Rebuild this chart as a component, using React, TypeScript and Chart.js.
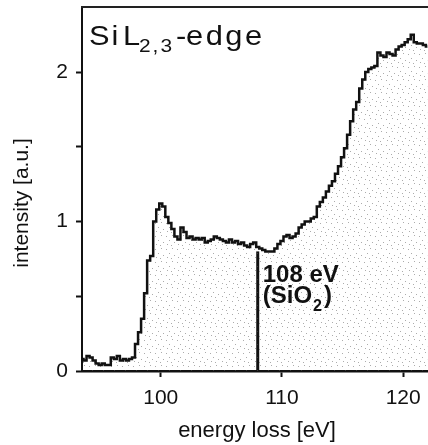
import React, { useEffect, useRef } from "react";
import { Chart, registerables } from "chart.js";

Chart.register(...registerables);

const ENERGY = [
  93.5, 93.75, 94.0, 94.25, 94.5, 94.75, 95.0, 95.25, 95.5, 95.75,
  96.0, 96.25, 96.5, 96.75, 97.0, 97.25, 97.5, 97.75, 98.0, 98.25,
  98.5, 98.75, 99.0, 99.25, 99.5, 99.75, 100.0, 100.25, 100.5, 100.75,
  101.0, 101.25, 101.5, 101.75, 102.0, 102.25, 102.5, 102.75, 103.0, 103.25,
  103.5, 103.75, 104.0, 104.25, 104.5, 104.75, 105.0, 105.25, 105.5, 105.75,
  106.0, 106.25, 106.5, 106.75, 107.0, 107.25, 107.5, 107.75, 108.0, 108.25,
  108.5, 108.75, 109.0, 109.25, 109.5, 109.75, 110.0, 110.25, 110.5, 110.75,
  111.0, 111.25, 111.5, 111.75, 112.0, 112.25, 112.5, 112.75, 113.0, 113.25,
  113.5, 113.75, 114.0, 114.25, 114.5, 114.75, 115.0, 115.25, 115.5, 115.75,
  116.0, 116.25, 116.5, 116.75, 117.0, 117.25, 117.5, 117.75, 118.0, 118.25,
  118.5, 118.75, 119.0, 119.25, 119.5, 119.75, 120.0, 120.25, 120.5, 120.75,
  121.0, 121.25, 121.5, 121.75, 122.0,
];

const INTENSITY = [
  0.08, 0.07, 0.10, 0.09, 0.07, 0.05, 0.04, 0.05, 0.04, 0.04,
  0.09, 0.08, 0.10, 0.07, 0.08, 0.07, 0.08, 0.09, 0.18, 0.26,
  0.35, 0.52, 0.74, 0.77, 1.00, 1.08, 1.12, 1.10, 1.03, 0.99,
  0.95, 0.90, 0.88, 0.96, 0.93, 0.89, 0.90, 0.88, 0.89, 0.88,
  0.89, 0.86, 0.87, 0.88, 0.90, 0.89, 0.88, 0.87, 0.86, 0.88,
  0.86, 0.87, 0.85, 0.86, 0.84, 0.83, 0.85, 0.86, 0.83, 0.82,
  0.81, 0.80, 0.80, 0.80, 0.82, 0.85, 0.87, 0.90, 0.91, 0.89,
  0.90, 0.92, 0.96, 0.98, 1.00, 1.00, 1.02, 1.03, 1.10, 1.13,
  1.16, 1.20, 1.24, 1.27, 1.32, 1.37, 1.43, 1.49, 1.58, 1.67,
  1.75, 1.80, 1.89, 1.95, 2.00, 2.02, 2.03, 2.04, 2.13, 2.11,
  2.10, 2.13, 2.12, 2.11, 2.15, 2.17, 2.18, 2.20, 2.22, 2.25,
  2.20, 2.19, 2.19, 2.18, 2.17,
];

const X_TICKS = [100, 110, 120];
const Y_TICKS = [0, 0.5, 1, 1.5, 2];
const Y_LABELED = [0, 1, 2];
const X_RANGE = [93.5, 122.05];
const Y_RANGE = [0, 2.435];

const MARKER_ENERGY = 108;
const MARKER_TOP = 0.8;
const MARKER_LABEL = "108 eV";
const MARKER_SUB_LABEL = ["(SiO", "2", ")"];

const TITLE_PARTS = ["Si", "L", "2,3", "-", "edge"];
const X_TITLE = "energy loss [eV]";
const Y_TITLE = "intensity [a.u.]";

const FONT = '"Liberation Sans", Arial, sans-serif';
const INK = "#111";

const overlayPlugin = {
  id: "overlay",
  afterDraw(chart: any) {
    const { ctx, chartArea: ca, scales } = chart;
    const xs = scales.x;
    const ys = scales.y;
    ctx.save();
    // top frame line
    ctx.strokeStyle = "#222";
    ctx.lineWidth = 2;
    ctx.beginPath();
    ctx.moveTo(ca.left - 1, ca.top);
    ctx.lineTo(ca.right, ca.top);
    ctx.stroke();

    ctx.fillStyle = INK;
    ctx.textBaseline = "alphabetic";
    ctx.textAlign = "left";

    // draw text char by char, slightly widened with extra tracking
    const drawSpaced = (txt: string, px: number, py: number, size: number, track: number) => {
      ctx.font = `${size}px ${FONT}`;
      let cx = px;
      for (const ch of txt) {
        ctx.save();
        ctx.translate(cx, py);
        ctx.scale(1.1, 1);
        ctx.fillText(ch, 0, 0);
        ctx.restore();
        cx += ctx.measureText(ch).width * 1.1 + track;
      }
    };
    const tb = ca.top + 38;
    drawSpaced(TITLE_PARTS[0], ca.left + 7, tb, 28, 2);
    drawSpaced(TITLE_PARTS[1], ca.left + 41, tb, 28, 2);
    drawSpaced(TITLE_PARTS[2], ca.left + 57, tb + 7, 19, 2);
    drawSpaced(TITLE_PARTS[3], ca.left + 94, tb, 28, 2);
    drawSpaced(TITLE_PARTS[4], ca.left + 104, tb, 28, 2.5);

    // axis titles
    ctx.font = `22px ${FONT}`;
    ctx.textAlign = "center";
    ctx.fillText(X_TITLE, (ca.left + ca.right) / 2 + 2, chart.height - 8);

    ctx.save();
    ctx.translate(28, (ca.top + ca.bottom) / 2 + 14);
    ctx.rotate(-Math.PI / 2);
    ctx.font = `21px ${FONT}`;
    ctx.textAlign = "center";
    ctx.fillText(Y_TITLE, 0, 0);
    ctx.restore();

    // annotation next to the marker line
    const ax = xs.getPixelForValue(MARKER_ENERGY) + 5;
    ctx.textAlign = "left";
    ctx.font = `bold 24px ${FONT}`;
    ctx.fillText(MARKER_LABEL, ax, ys.getPixelForValue(0.595));
    const b2 = ys.getPixelForValue(0.455);
    ctx.fillText(MARKER_SUB_LABEL[0], ax, b2);
    const w = ctx.measureText(MARKER_SUB_LABEL[0]).width;
    ctx.font = `bold 16px ${FONT}`;
    ctx.fillText(MARKER_SUB_LABEL[1], ax + w + 1, b2 + 8);
    const w2 = ctx.measureText(MARKER_SUB_LABEL[1]).width;
    ctx.font = `bold 24px ${FONT}`;
    ctx.fillText(MARKER_SUB_LABEL[2], ax + w + w2 + 3, b2);
    ctx.restore();
  },
};

function makePattern(): CanvasPattern | string {
  const pc = document.createElement("canvas");
  pc.width = 11;
  pc.height = 13;
  const c = pc.getContext("2d");
  if (!c) return "rgba(0,0,0,0.05)";
  c.fillStyle = "rgba(90,90,90,0.5)";
  const dots = [
    [1, 2], [7, 1], [4, 6], [9, 8], [2, 10], [6, 11],
  ];
  dots.forEach(([dx, dy]) => c.fillRect(dx, dy, 1, 1));
  const p = c.createPattern(pc, "repeat");
  return p || "rgba(0,0,0,0.05)";
}

export default function App() {
  const ref = useRef<HTMLCanvasElement | null>(null);

  useEffect(() => {
    if (!ref.current) return;
    const pattern = makePattern();
    const chart = new Chart(ref.current, {
      type: "line",
      data: {
        datasets: [
          {
            data: ENERGY.map((e, i) => ({ x: e, y: INTENSITY[i] })),
            stepped: "middle",
            borderColor: INK,
            borderWidth: 2.5,
            pointRadius: 0,
            fill: "origin",
            backgroundColor: pattern as any,
          },
          {
            data: [
              { x: MARKER_ENERGY, y: 0 },
              { x: MARKER_ENERGY, y: MARKER_TOP },
            ],
            borderColor: INK,
            borderWidth: 3,
            pointRadius: 0,
            fill: false,
          },
        ],
      },
      options: {
        animation: false,
        responsive: true,
        maintainAspectRatio: false,
        devicePixelRatio: 1,
        layout: { padding: { top: 7, left: 0, right: 0, bottom: 0 } },
        plugins: { legend: { display: false }, tooltip: { enabled: false } },
        scales: {
          x: {
            type: "linear",
            min: X_RANGE[0],
            max: X_RANGE[1],
            afterBuildTicks: (s: any) => {
              s.ticks = X_TICKS.map((v) => ({ value: v }));
            },
            afterFit: (s: any) => {
              s.height = 74;
              s.paddingLeft = 0;
              s.paddingRight = 0;
            },
            grid: { drawOnChartArea: false, drawTicks: true, tickLength: 6, tickWidth: 2, tickColor: INK },
            border: { display: true, color: INK, width: 2.5 },
            ticks: { font: { family: FONT, size: 21 }, color: INK, padding: 9, maxRotation: 0, autoSkip: false },
          },
          y: {
            type: "linear",
            min: Y_RANGE[0],
            max: Y_RANGE[1],
            afterBuildTicks: (s: any) => {
              s.ticks = Y_TICKS.map((v) => ({ value: v }));
            },
            afterFit: (s: any) => {
              s.width = 82;
              s.paddingTop = 0;
              s.paddingBottom = 0;
            },
            grid: { drawOnChartArea: false, drawTicks: true, tickLength: 6, tickWidth: 2, tickColor: INK },
            border: { display: true, color: INK, width: 2 },
            ticks: {
              font: { family: FONT, size: 21 },
              color: INK,
              padding: 8,
              autoSkip: false,
              callback: (v: any) => (Y_LABELED.includes(Number(v)) ? String(v) : ""),
            },
          },
        },
      },
      plugins: [overlayPlugin],
    } as any);
    return () => chart.destroy();
  }, []);

  return (
    <div style={{ position: "fixed", left: 0, top: 0, width: 428, height: 445, background: "#fff" }}>
      <div style={{ position: "relative", width: 428, height: 445 }}>
        <canvas ref={ref} />
      </div>
    </div>
  );
}
